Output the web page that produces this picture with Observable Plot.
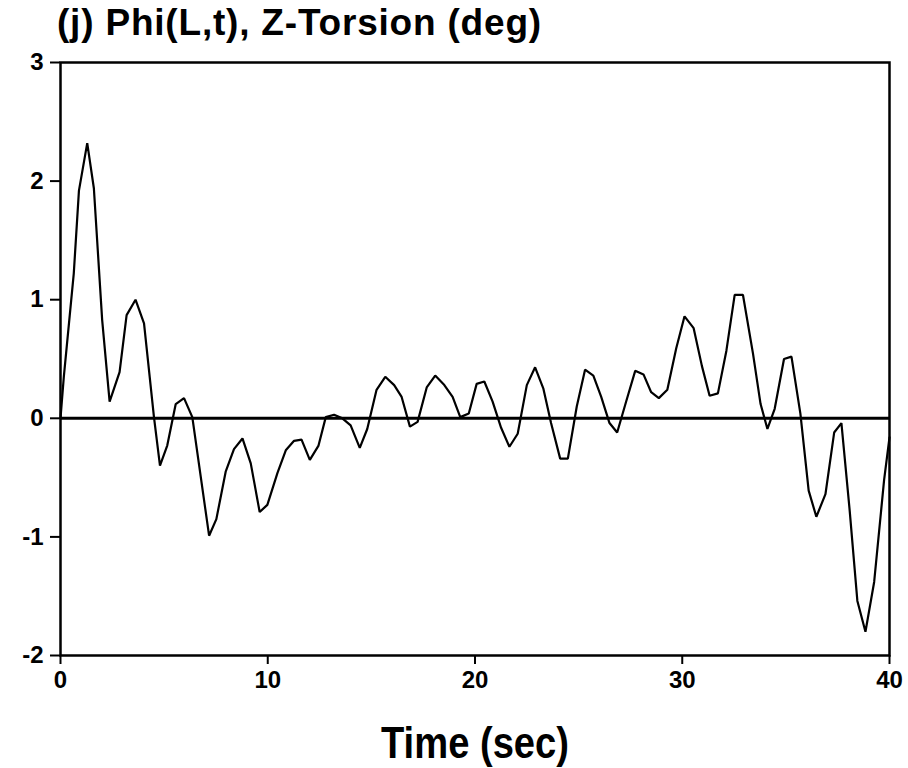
<!DOCTYPE html>
<html>
<head>
<meta charset="utf-8">
<script src="https://cdn.jsdelivr.net/npm/d3@7"></script>
<script src="https://cdn.jsdelivr.net/npm/@observablehq/plot@0.6"></script>
<style>
  html, body { margin: 0; padding: 0; background: #fff; }
  #title {
    height: 44px; line-height: 46px; padding-left: 57px;
    font-family: "Liberation Sans", Arial, sans-serif; font-weight: bold;
    font-size: 37px; letter-spacing: 0.8px; color: #000; white-space: nowrap;
  }
  g[aria-label$="tick label"] { font-size: 24px; font-weight: bold; }
</style>
</head>
<body>
<div id="title">(j) Phi(L,t), Z-Torsion (deg)</div>
<div id="chart"></div>
<script>
const titleText = "(j) Phi(L,t), Z-Torsion (deg)";
const xLabel = "Time (sec)";
const xTicks = [0, 10, 20, 30, 40];
const yTicks = [-2, -1, 0, 1, 2, 3];

const time = [0, 0.16, 0.64, 0.89, 1.29, 1.61, 2.01, 2.37, 2.85, 3.19, 3.62, 4.03, 4.51, 4.80, 5.15, 5.56, 5.96, 6.36, 7.17, 7.52, 7.97, 8.37, 8.78, 9.18, 9.61, 9.98, 10.47, 10.87, 11.27, 11.63, 12.03, 12.45, 12.8, 13.2, 13.6, 14.0, 14.44, 14.8, 15.25, 15.67, 16.1, 16.46, 16.86, 17.23, 17.67, 18.08, 18.52, 18.92, 19.29, 19.7, 20.08, 20.45, 20.85, 21.26, 21.66, 22.06, 22.5, 22.9, 23.3, 23.67, 24.11, 24.48, 24.91, 25.31, 25.71, 26.09, 26.49, 26.86, 27.29, 27.73, 28.13, 28.5, 28.87, 29.28, 29.71, 30.11, 30.55, 30.95, 31.32, 31.72, 32.13, 32.53, 32.93, 33.41, 33.78, 34.11, 34.46, 34.91, 35.27, 35.7, 36.1, 36.47, 36.91, 37.33, 37.68, 38.08, 38.45, 38.84, 39.26, 39.74, 40.0];

const phi = [0, 0.35, 1.22, 1.92, 2.32, 1.94, 0.83, 0.14, 0.39, 0.87, 1.0, 0.80, 0.01, -0.40, -0.23, 0.12, 0.17, 0.01, -0.99, -0.85, -0.45, -0.26, -0.17, -0.38, -0.79, -0.73, -0.46, -0.27, -0.19, -0.18, -0.35, -0.23, 0.01, 0.03, 0.0, -0.06, -0.25, -0.09, 0.24, 0.35, 0.28, 0.18, -0.07, -0.03, 0.26, 0.36, 0.28, 0.18, 0.01, 0.04, 0.29, 0.31, 0.14, -0.08, -0.24, -0.13, 0.28, 0.43, 0.25, -0.04, -0.34, -0.34, 0.10, 0.41, 0.36, 0.18, -0.04, -0.12, 0.14, 0.40, 0.37, 0.22, 0.17, 0.24, 0.59, 0.86, 0.76, 0.44, 0.19, 0.21, 0.57, 1.04, 1.04, 0.55, 0.12, -0.09, 0.08, 0.50, 0.52, 0.04, -0.61, -0.83, -0.64, -0.12, -0.04, -0.78, -1.54, -1.80, -1.38, -0.52, -0.16];

document.getElementById("title").textContent = titleText;

const chart = Plot.plot({
  width: 908,
  height: 724,
  marginTop: 18,
  marginLeft: 60,
  marginRight: 19,
  marginBottom: 113,
  style: { fontFamily: "'Liberation Sans', Arial, sans-serif", fontWeight: "bold", fontSize: "22px", color: "#000", background: "#fff" },
  x: { domain: [0, 40] },
  y: { domain: [-2, 3] },
  marks: [
    Plot.frame({ stroke: "#000", strokeWidth: 2.5 }),
    Plot.ruleY([0], { stroke: "#000", strokeWidth: 3 }),
    Plot.line(time, { x: time, y: phi, stroke: "#000", strokeWidth: 2.2, strokeLinejoin: "miter" }),
    Plot.axisX({ ticks: xTicks, tickFormat: d => String(d), tickSize: 9, tickPadding: 6, strokeWidth: 2, label: null }),
    Plot.axisY({ ticks: yTicks, tickFormat: d => String(d), tickSize: 10, tickPadding: 7, strokeWidth: 2, label: null }),
    Plot.text([xLabel], { frameAnchor: "bottom", text: d => d, dy: 102, lineAnchor: "bottom", fontSize: 45, fontWeight: "bold" })
  ]
});
document.getElementById("chart").appendChild(chart);
// condense axis label to match the narrow original lettering
d3.select(chart).selectAll("text").filter(function() { return this.textContent === xLabel; })
  .attr("textLength", 188).attr("lengthAdjust", "spacingAndGlyphs");
</script>
</body>
</html>
